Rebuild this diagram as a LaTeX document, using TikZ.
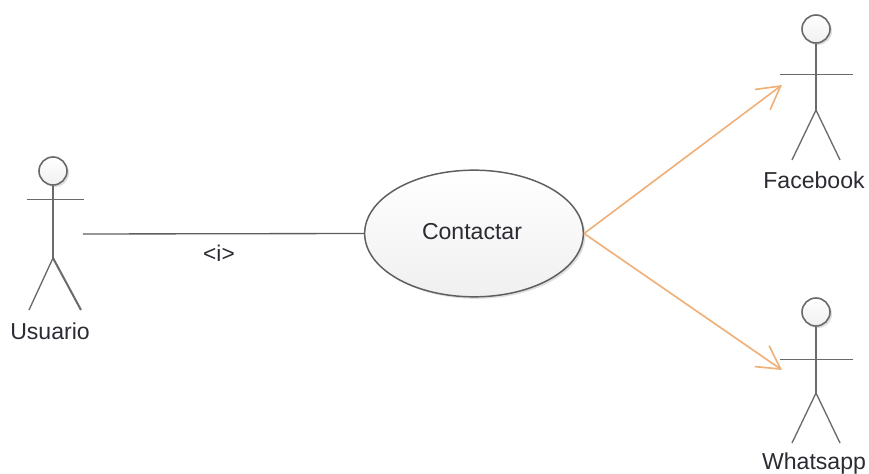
\documentclass[tikz,border=0pt]{standalone}
\usepackage{fontspec}
\setmainfont{Liberation Sans}
\usetikzlibrary{arrows.meta,shadows,calc,shapes.geometric}
\definecolor{lineGray}{HTML}{5E5E5E}
\definecolor{limbGray}{HTML}{6A6A6A}
\definecolor{flowOrange}{HTML}{F0B07A}
\definecolor{inkDark}{HTML}{2B2B33}
\tikzset{
  x=0.75pt,y=-0.75pt,
  softshade/.style={top color=white,bottom color=black!6,
    drop shadow={shadow xshift=1.5pt,shadow yshift=-1.5pt,opacity=.13,fill=black}},
  usecase/.style={ellipse,draw=lineGray,line width=1.1pt,softshade,
    minimum width=164pt,minimum height=95pt,inner sep=0pt},
  head/.style={circle,draw=limbGray,line width=1.2pt,softshade,minimum size=21pt,inner sep=0pt},
  limb/.style={draw=limbGray,line width=1pt},
  label/.style={font=\fontsize{17.3pt}{20pt}\selectfont,text=inkDark,inner sep=0pt},
  assoc/.style={draw=lineGray,line width=1pt},
  flow/.style={draw=flowOrange,line width=1.25pt,
    -{Straight Barb[length=17pt,width=19pt,line width=1.25pt]}},
}
\begin{document}
\begin{tikzpicture}
\useasboundingbox (0,0) rectangle (869,474);

% Use case
\node[usecase] (contactar) at (474,233.5) {};
\node[label] (contactarText) at (472,232) {Contactar};

% Usuario
\node[head] (uHead) at (53,171) {};
\coordinate (uHip) at (53,258);
\coordinate (uArmL) at (27,199.5);
\coordinate (uArmR) at (84,199.5);
\coordinate (uFootL) at (29,310);
\coordinate (uFootR) at (81,310);
\coordinate (uLink) at (83,234);
\draw[limb] (uHead.south) -- (uHip);
\draw[limb] (uArmL) -- (uArmR);
\draw[limb] (uFootL) -- (uHip);
\draw[limb,line width=1.5pt] (uHip) -- (uFootR);
\node[label] (usuario) at (50,331) {Usuario};

% Facebook
\node[head] (fHead) at (816,29) {};
\coordinate (fHip) at (816,110);
\coordinate (fArmL) at (780,74.5);
\coordinate (fArmR) at (853,74.5);
\coordinate (fFootL) at (792,160);
\coordinate (fFootR) at (840,160);
\coordinate (fLink) at (782,85);
\draw[limb] (fHead.south) -- (fHip);
\draw[limb] (fArmL) -- (fArmR);
\draw[limb] (fFootL) -- (fHip) -- (fFootR);
\node[label] (facebook) at (814,180) {Facebook};

% Whatsapp
\node[head] (wHead) at (816,312) {};
\coordinate (wHip) at (816,393);
\coordinate (wArmL) at (780,359.5);
\coordinate (wArmR) at (853,359.5);
\coordinate (wFootL) at (792,443);
\coordinate (wFootR) at (840,443);
\coordinate (wLink) at (782,370);
\draw[limb] (wHead.south) -- (wHip);
\draw[limb] (wArmL) -- (wArmR);
\draw[limb] (wFootL) -- (wHip) -- (wFootR);
\node[label] (whatsapp) at (814,464) {Whatsapp};

% Connectors
\draw[assoc] (uLink) -- (contactar.west);
\node[label,font=\fontsize{17pt}{20pt}\selectfont] (iLabel) at (219,253) {<i>};
\draw[flow] (contactar.east) -- (fLink);
\draw[flow] (contactar.east) -- (wLink);
\end{tikzpicture}
\end{document}
